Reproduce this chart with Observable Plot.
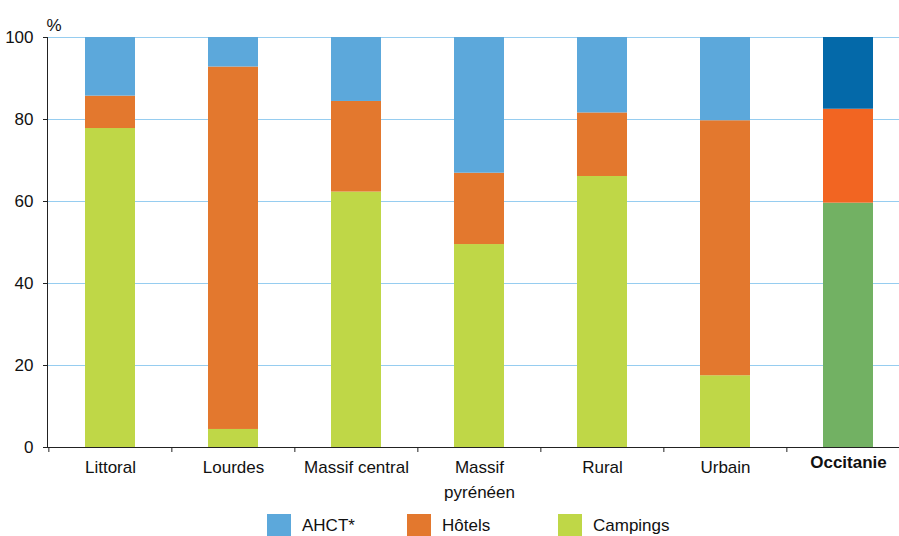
<!DOCTYPE html>
<html><head><meta charset="utf-8">
<script src="https://cdn.jsdelivr.net/npm/d3@7"></script>
<script src="https://cdn.jsdelivr.net/npm/@observablehq/plot@0.6"></script>
<style>
body{margin:0;background:#fff;font-family:"Liberation Sans Narrow","Arial Narrow","Liberation Sans",Arial,sans-serif;}
#wrap{position:relative;width:899px;height:536px;overflow:hidden;background:#fff;}
#legend{position:relative;height:26px;}
.item{position:absolute;top:4px;display:flex;align-items:center;font-size:17px;line-height:22px;color:#111;white-space:nowrap;}
.sw{width:24px;height:24px;margin-right:11px;flex:none;}
</style></head><body><div id="wrap"><div id="chart"></div><div id="legend"></div></div>
<script>
const categories = ["Littoral","Lourdes","Massif central","Massif pyrénéen","Rural","Urbain","Occitanie"];
const campings = [77.8, 4.4, 62.3, 49.5, 66.1, 17.5, 59.6];
const hotels   = [7.9, 88.4, 22.1, 17.4, 15.5, 62.2, 22.9];
const ahct     = [14.3, 7.2, 15.6, 33.1, 18.4, 20.3, 17.5];
const yTicks = [0, 20, 40, 60, 80, 100];
const legendNames = ["AHCT*", "Hôtels", "Campings"];
const tickLabels = {"Massif pyrénéen": "Massif\npyrénéen"};

const colors = {"Campings": "#bfd747", "Hôtels": "#e3782e", "AHCT*": "#5ca8db"};
const colorsOcc = {"Campings": "#72b163", "Hôtels": "#f26522", "AHCT*": "#0469a9"};

const rows = [];
categories.forEach((c, i) => {
  rows.push({cat: c, type: "Campings", value: campings[i]});
  rows.push({cat: c, type: "Hôtels", value: hotels[i]});
  rows.push({cat: c, type: "AHCT*", value: ahct[i]});
});

const fontFamily = '"Liberation Sans Narrow","Arial Narrow","Liberation Sans",Arial,sans-serif';
const W = 899, H = 510, ML = 47, MT = 37, MB = 63;
const xRange = [ML, 910];
const step = (xRange[1] - xRange[0]) / categories.length;

const chart = Plot.plot({
  width: W, height: H,
  marginLeft: ML, marginRight: 0, marginTop: MT, marginBottom: MB,
  style: {fontFamily, fontSize: "17px", color: "#111", background: "#fff", overflow: "visible"},
  x: {domain: categories, range: xRange, paddingInner: 0.595, paddingOuter: 0.2975},
  y: {domain: [0, 100]},
  color: {type: "identity"},
  marks: [
    Plot.ruleY(yTicks.filter(t => t > 0), {stroke: "#96cdf0", strokeOpacity: 1, strokeWidth: 1}),
    Plot.barY(rows, Plot.stackY({
      x: "cat", y: "value",
      fill: d => (d.cat === "Occitanie" ? colorsOcc : colors)[d.type]
    })),
    Plot.frame({anchor: "left", stroke: "#222"}),
    Plot.ruleY([0], {stroke: "#222"}),
    Plot.axisY(yTicks, {tickSize: 4, tickPadding: 10, fontSize: 17, label: null, stroke: "#222"}),
    Plot.axisX(categories, {tickSize: 5, tickFormat: () => "", dx: -step / 2, label: null, stroke: "#222"}),
    Plot.axisX(categories.filter(c => c !== "Occitanie"), {
      tickSize: 0, tickPadding: 8, fontSize: 17, lineHeight: 1.45, label: null,
      tickFormat: d => tickLabels[d] || d
    }),
    Plot.axisX(["Occitanie"], {tickSize: 0, tickPadding: 8, fontSize: 17, fontWeight: "bold", label: null}),
    Plot.text(["%"], {frameAnchor: "top-left", textAnchor: "start", dy: -19, dx: -1, fontSize: 17})
  ]
});
document.getElementById("chart").appendChild(chart);

const legendLeft = [267, 407, 558];
const legend = document.getElementById("legend");
legendNames.forEach((n, i) => {
  const it = document.createElement("div");
  it.className = "item";
  it.style.left = legendLeft[i] + "px";
  it.innerHTML = `<div class="sw" style="background:${colors[n]}"></div><span>${n}</span>`;
  legend.appendChild(it);
});
</script></body></html>
